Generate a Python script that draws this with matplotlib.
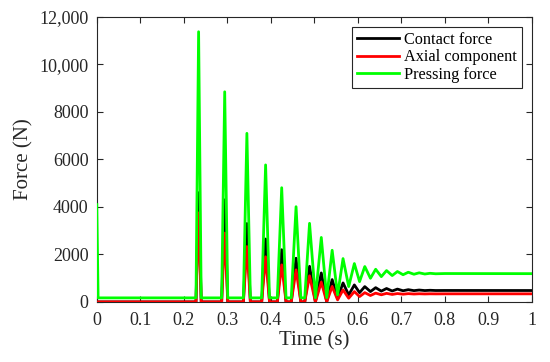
import numpy as np
import matplotlib
matplotlib.use("Agg")
import matplotlib.pyplot as plt

# フォント設定 (Times New Roman の代わり)
plt.rcParams["font.family"] = ["Liberation Serif", "DejaVu Serif"]
plt.rcParams["mathtext.fontset"] = "stix"

# データ
time_s = [
    0.0, 0.003, 0.228, 0.234, 0.240, 0.287, 0.294, 0.301,
    0.337, 0.345, 0.353, 0.379, 0.388, 0.397, 0.415, 0.425, 0.435,
    0.447, 0.458, 0.469, 0.478, 0.489, 0.5025, 0.516, 0.5285,
    0.541, 0.5535, 0.566, 0.579, 0.592, 0.604, 0.616, 0.629,
    0.641, 0.654, 0.666, 0.679, 0.691, 0.704, 0.716, 0.729,
    0.741, 0.754, 0.766, 0.779, 0.800, 1.0,
]
pressing_force = [
    4100, 170, 170, 11380, 170, 170, 8850, 170,
    170, 7100, 170, 170, 5770, 170, 170, 4810, 170,
    170, 4010, 170, 170, 3310, 170, 2715, 180,
    2175, 295, 1825, 645, 1615, 855, 1490, 995,
    1375, 1065, 1320, 1110, 1280, 1145, 1250, 1165,
    1225, 1175, 1205, 1185, 1195, 1190,
]
contact_force = [
    0, 0, 0, 4600, 0, 0, 4300, 0,
    0, 3300, 0, 0, 2650, 0, 0, 2200, 0,
    0, 1840, 0, 0, 1500, 0, 1220, 10,
    940, 155, 800, 295, 715, 390, 645, 435,
    600, 455, 565, 460, 540, 470, 515, 475,
    500, 478, 490, 480, 482, 480,
]
axial_component = [
    0, 0, 0, 3750, 0, 0, 2900, 0,
    0, 2330, 0, 0, 1900, 0, 0, 1560, 0,
    0, 1350, 0, 0, 1100, 0, 830, 5,
    650, 85, 505, 155, 435, 225, 390, 270,
    370, 300, 360, 315, 352, 325, 348, 332,
    343, 335, 341, 338, 340, 340,
]

x_ticks = np.arange(0, 1.01, 0.1)
x_ticklabels = ["0", "0.1", "0.2", "0.3", "0.4", "0.5", "0.6", "0.7", "0.8", "0.9", "1"]
y_ticks = np.arange(0, 12001, 2000)
y_ticklabels = ["0", "2000", "4000", "6000", "8000", "10,000", "12,000"]

TEXT_COLOR = "#262626"
FONT_LABELS = 15
FONT_TICKLABELS = 13
FONT_LEGENDS = 11.7
LW = 2.0

# fig, axインスタンス
fig = plt.figure(figsize=(5.5, 3.62), dpi=100)
ax = fig.add_axes([0.176, 0.166, 0.791, 0.787])

ax.plot(time_s, contact_force, color="black", linewidth=LW, label="Contact force",
        zorder=2, solid_joinstyle="round")
ax.plot(time_s, axial_component, color="red", linewidth=LW, label="Axial component",
        zorder=3, solid_joinstyle="round")
ax.plot(time_s, pressing_force, color="#00ff00", linewidth=LW, label="Pressing force",
        zorder=4, solid_joinstyle="round")

# 軸
ax.set_xlim(0, 1)
ax.set_ylim(0, 12000)
ax.set_xticks(x_ticks)
ax.set_xticklabels(x_ticklabels)
ax.set_yticks(y_ticks)
ax.set_yticklabels(y_ticklabels)
ax.tick_params(axis="both", direction="in", top=True, right=True, length=4,
               width=0.8, colors=TEXT_COLOR, labelsize=FONT_TICKLABELS)
ax.tick_params(axis="x", pad=7)
ax.tick_params(axis="y", pad=6)
for sp in ax.spines.values():
    sp.set_color(TEXT_COLOR)
    sp.set_linewidth(0.8)

ax.set_xlabel("Time (s)", fontsize=FONT_LABELS, color=TEXT_COLOR, labelpad=2)
ax.set_ylabel("Force (N)", fontsize=FONT_LABELS, color=TEXT_COLOR, labelpad=4)

leg = ax.legend(loc="upper right", fontsize=FONT_LEGENDS, fancybox=False,
                framealpha=1, edgecolor=TEXT_COLOR, borderaxespad=0.6,
                handlelength=2.6, borderpad=0.3, labelspacing=0.1,
                handletextpad=0.3)
leg.get_frame().set_linewidth(0.8)

fig.savefig("out.png", dpi=100)
